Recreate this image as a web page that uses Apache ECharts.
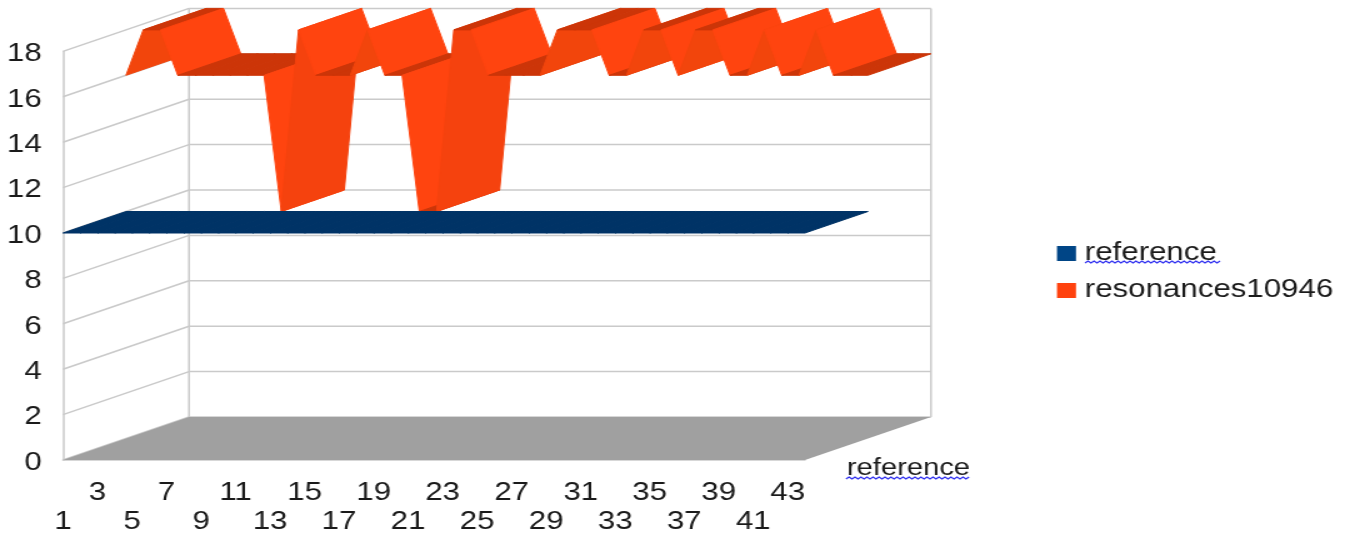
<!DOCTYPE html>
<html>
<head>
<meta charset="utf-8">
<style>
  html, body { margin: 0; padding: 0; background: #fff; overflow: hidden; width: 1348px; height: 537px; }
  #chart { height: 537px; transform-origin: 0 0; }
</style>
<script src="https://cdn.jsdelivr.net/npm/echarts@6/dist/echarts.min.js"></script>
</head>
<body>
<div id="chart"></div>
<script>
// The chart's text is set wide, so the drawing is laid out narrow and stretched sideways.
const WIDE = 1.25;

const categories = ['1','2','3','4','5','6','7','8','9','10','11','12','13','14','15','16','17','18','19','20','21','22',
                    '23','24','25','26','27','28','29','30','31','32','33','34','35','36','37','38','39','40','41','42','43','44'];
const referenceValues = [10,10,10,10,10,10,10,10,10,10,10,10,10,10,10,10,10,10,10,10,10,10,
                         10,10,10,10,10,10,10,10,10,10,10,10,10,10,10,10,10,10,10,10,10,10];
const resonanceValues = [16,18,18,16,16,16,16,16,16,10,18,16,16,16,18,16,16,10,10,18,18,16,
                         16,16,16,18,18,18,16,16,18,18,16,18,18,16,16,18,16,16,18,16,16,16];
const yTicks = [0,2,4,6,8,10,12,14,16,18];

// Receding depth of the box, in pixels: two ribbons share it equally.
const DEPTH_X = 126 / WIDE, DEPTH_Y = -43;

const el = document.getElementById('chart');
el.style.width = (1348 / WIDE) + 'px';
el.style.transform = 'scaleX(' + WIDE + ')';
const chart = echarts.init(el, null, { renderer: 'canvas', devicePixelRatio: 1 });

const shift = (p, k) => [p[0] + DEPTH_X * k, p[1] + DEPTH_Y * k];

function ribbon(values, slot, colourOf) {
  return function (params, api) {
    const i = params.dataIndex;
    if (i >= values.length - 1) return null;
    const a = shift(api.coord([i, values[i]]), slot);
    const b = shift(api.coord([i + 1, values[i + 1]]), slot);
    const fill = colourOf(values[i], values[i + 1]);
    return {
      type: 'polygon',
      shape: { points: [a, b, shift(b, 0.5), shift(a, 0.5)] },
      // A hairline in the fill colour closes the seams between neighbouring faces.
      style: { fill: fill, stroke: fill, lineWidth: 1, lineJoin: 'bevel' }
    };
  };
}

function resonanceShade(from, to) {
  if (from === to) return '#cc3508';
  if (from > to) return '#ff440f';
  return to - from > 2 ? '#f5420e' : '#f2450c';
}

// Box behind the data: floor, back wall and left wall with their grid lines.
function wallItem(params, api) {
  const v = yTicks[params.dataIndex];
  const start = api.coord([0, v]);
  const end = api.coord([categories.length - 1, v]);
  const back = shift(start, 1), backEnd = shift(end, 1);
  const line = { stroke: '#cacaca', lineWidth: 1.5 };
  const children = [
    { type: 'line', shape: { x1: start[0], y1: start[1], x2: back[0], y2: back[1] }, style: line },
    { type: 'line', shape: { x1: back[0], y1: back[1], x2: backEnd[0], y2: backEnd[1] }, style: line }
  ];
  if (v === 0) {
    const top = shift(api.coord([0, yTicks[yTicks.length - 1]]), 1);
    const topEnd = shift(api.coord([categories.length - 1, yTicks[yTicks.length - 1]]), 1);
    children.push(
      { type: 'polygon', shape: { points: [start, end, backEnd, back] }, style: { fill: '#a0a0a0' } },
      { type: 'line', shape: { x1: back[0], y1: back[1], x2: top[0], y2: top[1] }, style: line },
      { type: 'line', shape: { x1: backEnd[0], y1: backEnd[1], x2: topEnd[0], y2: topEnd[1] }, style: line }
    );
  }
  return { type: 'group', children: children };
}

// Spell-check squiggle under a word.
function squiggle(x0, x1, y) {
  const pts = [];
  let up = false;
  for (let x = x0; x <= x1; x += 3) { pts.push([x / WIDE, y + (up ? -1 : 1)]); up = !up; }
  return { type: 'polyline', silent: true, shape: { points: pts }, style: { stroke: '#3030f0', lineWidth: 1.2, fill: null } };
}

const TEXT = '#1a1a1a';
const FONT = '"Liberation Sans", Arial, sans-serif';

chart.setOption({
  animation: false,
  backgroundColor: '#fff',
  grid: { left: 63 / WIDE, width: 742 / WIDE, top: 51.4, height: 408.6, containLabel: false },
  legend: {
    data: [
      { name: 'reference', itemStyle: { color: '#004586' } },
      { name: 'resonances10946', itemStyle: { color: '#ff420e' } }
    ],
    orient: 'vertical',
    left: 1057 / WIDE,
    top: 239,
    padding: 0,
    icon: 'rect',
    itemWidth: 19 / WIDE,
    itemHeight: 15,
    itemGap: 8,
    selectedMode: false,
    textStyle: { color: TEXT, fontFamily: FONT, fontSize: 25, lineHeight: 28, padding: [1, 0, 0, 2] }
  },
  xAxis: {
    type: 'category',
    data: categories,
    boundaryGap: false,
    name: 'reference',
    nameLocation: 'end',
    nameGap: 42 / WIDE,
    nameTextStyle: { color: TEXT, fontFamily: FONT, fontSize: 23.3, align: 'left', verticalAlign: 'top', padding: [-3, 0, 0, 0] },
    axisLine: { show: true, lineStyle: { color: '#cacaca', width: 1.5 } },
    axisTick: { show: false },
    splitLine: { show: false },
    axisLabel: {
      interval: 0,
      margin: 19,
      color: TEXT,
      fontFamily: FONT,
      fontSize: 25,
      lineHeight: 29,
      hideOverlap: false,
      // Odd categories only, staggered over two rows.
      formatter: function (value) {
        const n = Number(value);
        if (n % 2 === 0) return '';
        return n % 4 === 1 ? '\n' + value : value;
      }
    }
  },
  yAxis: {
    type: 'value',
    min: 0,
    max: 18,
    interval: 2,
    axisLine: { show: true, lineStyle: { color: '#cacaca', width: 1.5 } },
    axisTick: { show: false },
    splitLine: { show: false },
    // Top-anchored with a short line box: the numbers sit just below their tick height.
    axisLabel: { margin: 17, color: TEXT, fontFamily: FONT, fontSize: 25, verticalAlign: 'top', lineHeight: 6 }
  },
  series: [
    {
      type: 'custom',
      name: 'box',
      coordinateSystem: 'cartesian2d',
      silent: true,
      clip: false,
      data: yTicks.map(function (v, i) { return [i, v]; }),
      renderItem: wallItem,
      z: 1
    },
    {
      type: 'custom',
      name: 'resonances10946',
      coordinateSystem: 'cartesian2d',
      clip: false,
      itemStyle: { color: '#ff420e' },
      data: resonanceValues.map(function (v, i) { return [i, v]; }),
      renderItem: ribbon(resonanceValues, 0.5, resonanceShade),
      z: 2
    },
    {
      type: 'custom',
      name: 'reference',
      coordinateSystem: 'cartesian2d',
      clip: false,
      itemStyle: { color: '#004586' },
      data: referenceValues.map(function (v, i) { return [i, v]; }),
      renderItem: ribbon(referenceValues, 0, function () { return '#003366'; }),
      z: 3
    }
  ],
  graphic: [squiggle(1085, 1220, 262), squiggle(846, 970, 478)]
});
</script>
</body>
</html>
